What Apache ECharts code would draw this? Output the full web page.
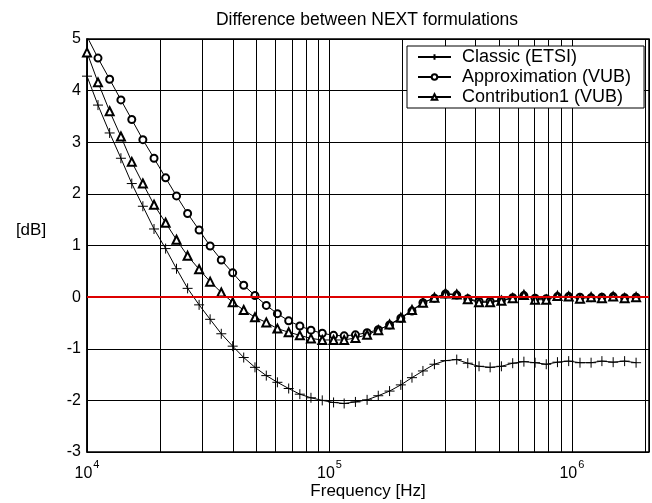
<!DOCTYPE html>
<html>
<head>
<meta charset="utf-8">
<script src="https://cdn.jsdelivr.net/npm/echarts@6/dist/echarts.min.js"></script>
<style>
  html, body { margin: 0; padding: 0; background: #fff; }
  #chart { width: 652px; height: 503px; }
</style>
</head>
<body>
<div id="chart"></div>
<script>
// frequency of each marker [Hz]
const freq = [10000, 11100, 12400, 13800, 15300, 17000, 18900, 21100, 23400, 26000,
  29000, 32200, 35800, 39900, 44300, 49300, 54900, 61000, 67900, 75500,
  83900, 93400, 104000, 115000, 128000, 143000, 159000, 177000, 197000, 219000,
  243000, 271000, 301000, 335000, 372000, 414000, 460000, 512000, 570000, 634000,
  705000, 784000, 872000, 970000, 1080000, 1200000, 1330000, 1480000, 1650000, 1840000];

// differences [dB]
const classic = [4.28, 3.72, 3.18, 2.69, 2.20, 1.76, 1.32, 0.94, 0.55, 0.17,
  -0.15, -0.43, -0.71, -0.95, -1.17, -1.36, -1.52, -1.65, -1.77, -1.88,
  -1.95, -2.00, -2.04, -2.06, -2.03, -1.99, -1.91, -1.82, -1.70, -1.56,
  -1.43, -1.30, -1.23, -1.21, -1.28, -1.34, -1.36, -1.34, -1.28, -1.25,
  -1.27, -1.30, -1.26, -1.24, -1.27, -1.27, -1.24, -1.26, -1.24, -1.27];
const approx = [5.05, 4.63, 4.22, 3.82, 3.44, 3.05, 2.69, 2.31, 1.96, 1.62,
  1.30, 0.99, 0.72, 0.47, 0.23, 0.03, -0.16, -0.32, -0.46, -0.56,
  -0.64, -0.70, -0.74, -0.75, -0.73, -0.69, -0.63, -0.54, -0.41, -0.27,
  -0.11, -0.02, 0.06, 0.04, -0.03, -0.08, -0.08, -0.06, -0.01, 0.03,
  -0.02, -0.03, 0.01, 0.01, 0.00, -0.01, 0.00, 0.01, -0.01, 0.00];
const contrib = [4.74, 4.16, 3.60, 3.11, 2.62, 2.20, 1.79, 1.44, 1.11, 0.80,
  0.54, 0.30, 0.09, -0.10, -0.25, -0.39, -0.49, -0.61, -0.68, -0.74,
  -0.80, -0.83, -0.83, -0.83, -0.79, -0.73, -0.64, -0.53, -0.40, -0.25,
  -0.11, -0.01, 0.07, 0.05, -0.04, -0.10, -0.10, -0.07, -0.02, 0.04,
  -0.05, -0.05, 0.02, 0.01, -0.03, 0.00, -0.02, 0.01, -0.02, 0.00];

const seriesNames = ['Classic (ETSI)', 'Approximation (VUB)', 'Contribution1 (VUB)'];

// minor vertical grid lines (2..9 per decade)
const minorGrid = [20000, 30000, 40000, 50000, 60000, 70000, 80000, 90000,
  200000, 300000, 400000, 500000, 600000, 700000, 800000, 900000, 2000000];

const FONT = 'Liberation Sans, Arial, sans-serif';

const chart = echarts.init(document.getElementById('chart'));

const pairs = (ys) => freq.map((f, i) => [f, ys[i]]);

const lineCommon = {
  type: 'line',
  showAllSymbol: true,
  z: 4,
  lineStyle: { color: '#000', width: 1 },
  emphasis: { disabled: true },
};

const option = {
  animation: false,
  graphic: [
    {
      type: 'text', x: 367, y: 20,
      style: { text: 'Difference between NEXT formulations', fontSize: 17.5, fontFamily: FONT,
        fill: '#000', align: 'center', verticalAlign: 'middle', textAlign: 'center', textVerticalAlign: 'middle' }
    },
    {
      type: 'text', x: 31, y: 230,
      style: { text: '[dB]', fontSize: 17, fontFamily: FONT,
        fill: '#000', align: 'center', verticalAlign: 'middle', textAlign: 'center', textVerticalAlign: 'middle' }
    }
  ],
  legend: {
    data: seriesNames,
    orient: 'vertical',
    left: 407,
    top: 46,
    padding: [2, 13, 2, 10],
    itemGap: 2,
    itemWidth: 33,
    itemHeight: 7,
    backgroundColor: '#fff',
    borderColor: '#000',
    borderWidth: 1,
    borderRadius: 0,
    textStyle: { fontSize: 18, fontFamily: FONT, color: '#000', padding: [0, 0, 0, 6] },
    z: 10
  },
  grid: {
    left: 87, right: 3, top: 39, bottom: 51,
    outerBoundsMode: 'none',
    containLabel: false,
    show: true, borderColor: '#000', borderWidth: 1.5
  },
  xAxis: {
    type: 'log',
    logBase: 10,
    min: 10000,
    max: 2080000,
    name: 'Frequency [Hz]',
    nameLocation: 'middle',
    nameGap: 31,
    nameMoveOverlap: false,
    nameTextStyle: { fontSize: 17, fontFamily: FONT, color: '#000' },
    axisLine: { lineStyle: { color: '#000', width: 1.5 } },
    axisTick: { show: false },
    axisLabel: {
      margin: 12,
      showMaxLabel: false,
      formatter: (v) => {
        const e = Math.round(Math.log10(v));
        if (Math.abs(v - Math.pow(10, e)) / v > 1e-6) return '';
        return '{b|10}{s|' + e + '}';
      },
      rich: {
        b: { fontSize: 16, fontFamily: FONT, color: '#000', lineHeight: 20 },
        s: { fontSize: 11, fontFamily: FONT, color: '#000', lineHeight: 12, padding: [0, 0, 19, 1] }
      }
    },
    splitLine: { show: true, lineStyle: { color: '#000', width: 1 } }
  },
  yAxis: {
    type: 'value',
    min: -3,
    max: 5,
    interval: 1,
    axisLine: { show: true, lineStyle: { color: '#000', width: 1.5 } },
    axisTick: { show: false },
    axisLabel: { fontSize: 16, fontFamily: FONT, color: '#000', margin: 6 },
    splitLine: { show: true, lineStyle: { color: '#000', width: 1 } }
  },
  series: [
    {
      name: 'grid',
      type: 'line',
      data: [],
      z: 1,
      markLine: {
        silent: true,
        symbol: 'none',
        label: { show: false },
        lineStyle: { color: '#000', width: 1, type: 'solid' },
        data: minorGrid.map((v) => ({ xAxis: v }))
      }
    },
    {
      name: 'zero',
      type: 'line',
      data: [],
      z: 2,
      markLine: {
        silent: true,
        symbol: 'none',
        label: { show: false },
        lineStyle: { color: '#dd0000', width: 2, type: 'solid' },
        data: [{ yAxis: 0 }]
      }
    },
    Object.assign({}, lineCommon, {
      name: seriesNames[0],
      data: pairs(classic),
      symbol: 'path://M0,5L10,5M5,0L5,10',
      symbolSize: 10,
      itemStyle: { color: '#000', borderColor: '#000', borderWidth: 1 }
    }),
    Object.assign({}, lineCommon, {
      name: seriesNames[1],
      data: pairs(approx),
      symbol: 'emptyCircle',
      symbolSize: 7,
      itemStyle: { color: '#000', borderColor: '#000', borderWidth: 1 }
    }),
    Object.assign({}, lineCommon, {
      name: seriesNames[2],
      data: pairs(contrib),
      symbol: 'emptyTriangle',
      symbolSize: 8,
      itemStyle: { color: '#000', borderColor: '#000', borderWidth: 1 }
    })
  ]
};

chart.setOption(option);
</script>
</body>
</html>
